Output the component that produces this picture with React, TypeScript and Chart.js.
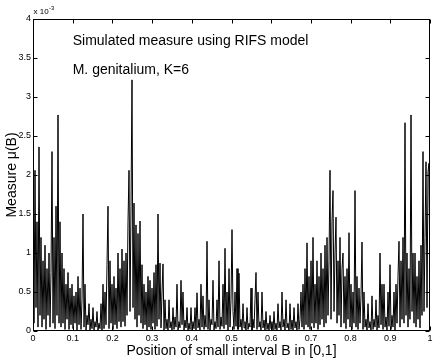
import React, { useEffect, useRef } from "react";
import { Chart, registerables } from "chart.js";

Chart.register(...registerables);

// Simulated measure mu(B), in units of 10^-3, sampled along [0,1]
const MEASURE_PART_1 = [
  2.15, 0.1, 2.06, 0.3, 1.4, 0.05, 2.36, 0.2, 1.2, 0.05,
  0.9, 0.15, 1.1, 0.02, 0.8, 0.2, 1.0, 0.05, 0.75, 2.3,
  0.1, 1.2, 0.03, 1.6, 0.2, 2.77, 0.1, 1.4, 0.05, 1.0,
  0.1, 0.8, 0.02, 0.6, 0.15, 0.75, 0.02, 0.55, 0.08, 0.6,
  0.03, 0.45, 0.1, 0.5, 0.01, 0.7, 0.08, 0.55, 0.02, 0.4,
  1.5, 0.05, 0.6, 0.01, 0.2, 0.08, 0.35, 0.01, 0.15, 0.03,
  0.3, 0.01, 0.12, 0.05, 0.25, 0.01, 0.1, 0.03, 0.35, 0.01,
  0.6, 0.03, 0.5, 0.08, 0.85, 1.6, 0.03, 0.9, 0.1, 0.6,
  0.02, 0.7, 0.08, 0.55, 0.03, 1.0, 0.12, 0.8, 0.05, 1.05,
  0.12, 0.9, 0.06, 1.0, 0.2, 1.4, 2.06, 0.25, 1.6, 3.22,
];
const MEASURE_PART_2 = [
  0.3, 1.64, 0.15, 1.36, 0.05, 1.25, 0.2, 1.41, 0.1, 0.85,
  0.03, 0.6, 0.08, 0.5, 0.01, 0.7, 0.05, 0.65, 0.02, 0.55,
  0.1, 0.75, 0.02, 0.85, 0.06, 1.5, 0.15, 0.87, 0.04, 0.5,
  0.86, 0.01, 0.4, 0.03, 0.15, 0.0, 0.4, 0.04, 0.12, 0.01,
  0.3, 0.02, 0.18, 0.05, 0.6, 0.01, 0.12, 0.04, 0.65, 0.08,
  0.5, 0.01, 0.14, 0.04, 0.3, 0.0, 0.1, 0.02, 0.3, 0.01,
  0.12, 0.03, 0.3, 0.0, 0.49, 0.04, 0.15, 0.01, 0.6, 0.05,
  0.45, 0.02, 0.2, 0.05, 1.15, 0.02, 0.4, 0.01, 0.15, 0.08,
  0.65, 0.01, 0.12, 0.03, 0.4, 0.05, 0.9, 0.02, 0.18, 0.06,
  0.6, 0.03, 1.06, 0.08, 0.5, 0.01, 0.8, 0.05, 0.4, 1.3,
];
const MEASURE_PART_3 = [
  0.25, 0.02, 0.5, 0.06, 0.8, 0.02, 0.74, 0.05, 0.15, 0.01,
  0.35, 0.04, 0.12, 0.0, 0.3, 0.02, 0.1, 0.05, 0.55, 0.01,
  0.15, 0.04, 0.4, 0.75, 0.02, 0.5, 0.05, 0.12, 0.01, 0.5,
  0.04, 0.14, 0.0, 0.25, 0.02, 0.1, 0.01, 0.2, 0.03, 0.12,
  0.0, 0.25, 0.02, 0.1, 0.01, 0.35, 0.04, 0.12, 0.01, 0.5,
  0.05, 0.15, 0.01, 0.4, 0.04, 0.1, 0.0, 0.35, 0.02, 0.14,
  0.01, 0.3, 0.04, 0.12, 0.0, 0.35, 0.02, 0.15, 0.5, 0.05,
  0.6, 0.02, 0.8, 0.08, 1.13, 0.05, 0.7, 0.02, 0.9, 0.1,
  1.2, 0.04, 0.6, 0.1, 0.9, 0.02, 0.7, 0.08, 1.0, 0.15,
  0.8, 0.05, 1.1, 0.1, 1.2, 0.2, 0.9, 2.06, 0.15, 1.4,
];
const MEASURE_PART_4 = [
  1.8, 0.25, 1.0, 1.46, 0.1, 0.9, 0.2, 1.2, 0.05, 0.8,
  1.0, 0.1, 0.7, 0.03, 0.8, 0.15, 1.26, 0.05, 0.6, 0.02,
  0.5, 0.1, 1.8, 0.05, 0.7, 0.02, 0.55, 0.1, 0.45, 1.14,
  0.02, 0.5, 0.05, 0.15, 0.01, 0.35, 0.04, 0.12, 0.0, 0.45,
  0.02, 0.15, 0.05, 0.4, 0.01, 0.2, 0.04, 1.0, 0.08, 0.6,
  0.02, 0.6, 0.05, 0.18, 0.01, 0.5, 0.06, 0.85, 0.02, 0.2,
  0.05, 0.5, 0.01, 0.6, 0.1, 0.7, 1.15, 0.05, 0.9, 0.15,
  1.2, 0.1, 2.67, 0.2, 1.0, 0.05, 0.8, 0.15, 2.77, 0.25,
  1.0, 0.1, 1.0, 0.05, 0.7, 0.15, 0.9, 0.04, 1.1, 0.2,
  2.3, 0.25, 1.2, 2.17, 0.3, 2.04, 2.15, 0.5,
];

const X_TICKS = [0, 0.1, 0.2, 0.3, 0.4, 0.5, 0.6, 0.7, 0.8, 0.9, 1];
const Y_TICKS = [0, 0.5, 1, 1.5, 2, 2.5, 3, 3.5, 4];
const Y_EXPONENT = "-3";
const X_TITLE = "Position of small interval B in [0,1]";
const Y_TITLE = "Measure \u03bc(B)";
const NOTE_LINES = ["Simulated measure using RIFS model", "M. genitalium, K=6"];
const NOTE_X = 0.1;
const NOTE_Y = [3.71, 3.35];

const FONT = "'Liberation Sans', Arial, Helvetica, sans-serif";

const boxPlugin = {
  id: "matlabBox",
  afterDraw(chart: any) {
    const { ctx, chartArea } = chart;
    const xs = chart.scales.x;
    const ys = chart.scales.y;
    const L = Math.round(chartArea.left) + 0.5;
    const R = Math.round(chartArea.right) - 0.5;
    const T = Math.round(chartArea.top) + 0.5;
    const B = Math.round(chartArea.bottom) - 0.5;
    ctx.save();
    ctx.strokeStyle = "#000";
    ctx.lineWidth = 1;
    ctx.strokeRect(L, T, R - L, B - T);
    const tl = 4;
    ctx.beginPath();
    X_TICKS.forEach((v) => {
      const px = Math.round(xs.getPixelForValue(v)) + 0.5;
      ctx.moveTo(px, B);
      ctx.lineTo(px, B - tl);
      ctx.moveTo(px, T);
      ctx.lineTo(px, T + tl);
    });
    Y_TICKS.forEach((v) => {
      const py = Math.round(ys.getPixelForValue(v)) + 0.5;
      ctx.moveTo(L, py);
      ctx.lineTo(L + tl, py);
      ctx.moveTo(R, py);
      ctx.lineTo(R - tl, py);
    });
    ctx.stroke();

    // exponent label
    ctx.fillStyle = "#000";
    ctx.textBaseline = "alphabetic";
    ctx.textAlign = "left";
    ctx.font = `8px ${FONT}`;
    ctx.fillText("x 10", L, T - 6);
    const w = ctx.measureText("x 10").width;
    ctx.font = `6px ${FONT}`;
    ctx.fillText(Y_EXPONENT, L + w + 0.5, T - 10);

    // annotations
    ctx.font = `14px ${FONT}`;
    ctx.textBaseline = "middle";
    NOTE_LINES.forEach((t, i) => {
      ctx.fillText(t, xs.getPixelForValue(NOTE_X), ys.getPixelForValue(NOTE_Y[i]));
    });
    ctx.restore();
  },
};

export default function App() {
  const ref = useRef<HTMLCanvasElement | null>(null);
  useEffect(() => {
    const values = [...MEASURE_PART_1, ...MEASURE_PART_2, ...MEASURE_PART_3, ...MEASURE_PART_4];
    const n = values.length;
    const points = values.map((v, i) => ({ x: i / (n - 1), y: v }));
    const chart = new Chart(ref.current as HTMLCanvasElement, {
      type: "line",
      data: {
        datasets: [
          {
            data: points,
            borderColor: "#000",
            borderWidth: 1,
            pointRadius: 0,
            tension: 0,
            fill: false,
          },
        ],
      },
      options: {
        animation: false,
        responsive: false,
        events: [],
        layout: { padding: { top: 19, right: 6, left: 0, bottom: 0 } },
        plugins: { legend: { display: false }, tooltip: { enabled: false } },
        scales: {
          x: {
            type: "linear",
            min: 0,
            max: 1,
            afterBuildTicks: (s: any) => {
              s.ticks = X_TICKS.map((v) => ({ value: v }));
            },
            afterFit: (s: any) => {
              s.height = 29;
            },
            grid: { display: false, drawTicks: false },
            border: { display: false },
            ticks: {
              autoSkip: false,
              maxRotation: 0,
              padding: 2,
              color: "#000",
              font: { family: FONT, size: 9 },
              callback: (v: any) => String(Math.round(Number(v) * 10) / 10),
            },
            title: {
              display: true,
              text: X_TITLE,
              color: "#000",
              font: { family: FONT, size: 14 },
              padding: { top: 0, bottom: 0 },
            },
          },
          y: {
            type: "linear",
            min: 0,
            max: 4,
            afterBuildTicks: (s: any) => {
              s.ticks = Y_TICKS.map((v) => ({ value: v }));
            },
            afterFit: (s: any) => {
              s.width = 33;
            },
            grid: { display: false, drawTicks: false },
            border: { display: false },
            ticks: {
              padding: 2,
              color: "#000",
              font: { family: FONT, size: 9 },
              callback: (v: any) => String(v),
            },
            title: {
              display: true,
              text: Y_TITLE,
              color: "#000",
              font: { family: FONT, size: 14 },
              padding: { top: 4, bottom: 0 },
            },
          },
        },
      },
      plugins: [boxPlugin],
    });
    return () => chart.destroy();
  }, []);
  return (
    <div style={{ position: "fixed", left: 0, top: 0, width: 436, height: 360, background: "#fff" }}>
      <canvas ref={ref} width={436} height={360} style={{ display: "block" }} />
    </div>
  );
}
